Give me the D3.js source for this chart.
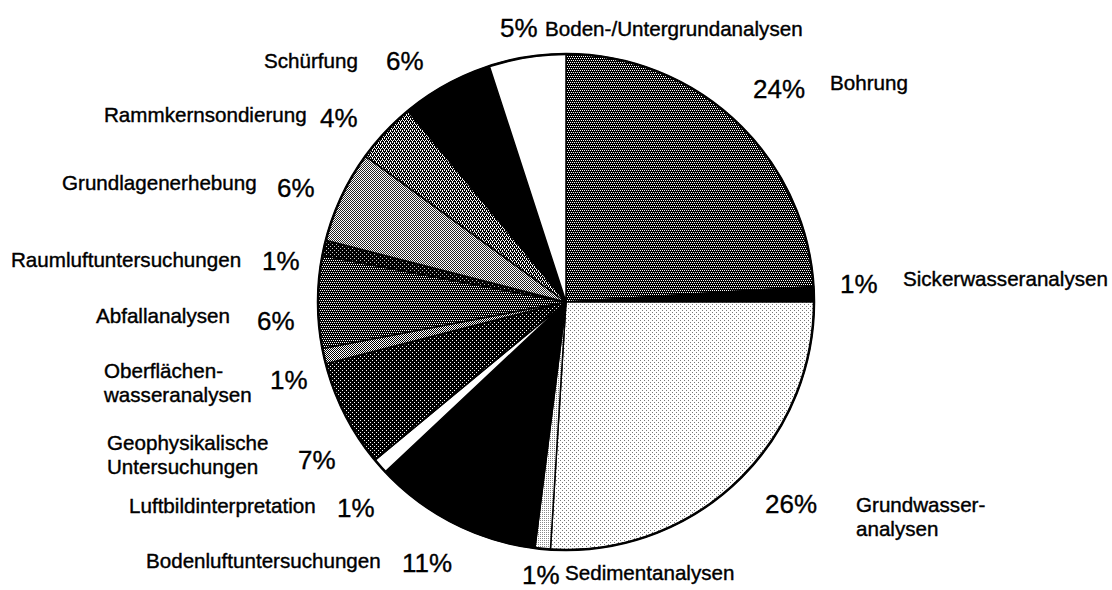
<!DOCTYPE html>
<html><head><meta charset="utf-8">
<script src="https://cdn.jsdelivr.net/npm/d3@7"></script>
<style>body{margin:0;background:#fff}svg{display:block}</style>
</head><body>
<svg id="c" width="1112" height="590"></svg>
<script>
// ---- data ----
const categories = ["Bohrung","Sickerwasseranalysen","Grundwasseranalysen","Sedimentanalysen",
  "Bodenluftuntersuchungen","Luftbildinterpretation","Geophysikalische Untersuchungen",
  "Oberflächenwasseranalysen","Abfallanalysen","Raumluftuntersuchungen","Grundlagenerhebung",
  "Rammkernsondierung","Schürfung","Boden-/Untergrundanalysen"];
const values = [24,1,26,1,11,1,7,1,6,1,6,4,6,5];
const labelLines = [["Bohrung"],["Sickerwasseranalysen"],["Grundwasser-","analysen"],["Sedimentanalysen"],
  ["Bodenluftuntersuchungen"],["Luftbildinterpretation"],["Geophysikalische","Untersuchungen"],
  ["Oberflächen-","wasseranalysen"],["Abfallanalysen"],["Raumluftuntersuchungen"],["Grundlagenerhebung"],
  ["Rammkernsondierung"],["Schürfung"],["Boden-/Untergrundanalysen"]];

// ---- layout (label anchor positions: textX, textY, pctX, pctY) ----
const labelPos = [
  [830, 90, 753, 98],
  [903, 286, 840, 293],
  [856, 512, 765, 513],
  [565, 580, 522, 584],
  [146, 568, 402, 572],
  [129, 513, 337, 517],
  [107, 450, 298, 469],
  [104, 378, 270, 389],
  [96, 323, 257, 330],
  [11, 267, 262, 270],
  [62, 190, 277, 197],
  [104, 122, 320, 127],
  [264, 68, 386, 70],
  [545, 36, 500, 37]
];

// ---- styles: dithered fill patterns ----
const patternSpecs = [
  {id:"pBohr", size:4, bg:"#000", fg:"#fff", dots:[[0,0],[2,0],[1,2],[3,2]]},
  {id:"pGrund", size:4, bg:"#fff", fg:"#777", dots:[[0,0],[2,2]]},
  {id:"pSed", size:2, bg:"#fff", fg:"#888", dots:[[0,0]]},
  {id:"pGeo", size:4, bg:"#000", fg:"#fff", dots:[[0,0],[2,2]]},
  {id:"pOber", size:2, bg:"#fff", fg:"#000", dots:[[0,0],[1,1]]},
  {id:"pAbf", size:4, bg:"#000", fg:"#fff", dots:[[0,0],[2,0],[1,2],[3,2]]},
  {id:"pRaum", size:4, bg:"#000", fg:"#ccc", dots:[[0,0],[2,2]]},
  {id:"pGrl", size:2, bg:"#fff", fg:"#222", dots:[[0,0],[1,1]]},
  {id:"pRamm", size:4, bg:"#000", fg:"#fff", dots:[[0,0],[2,0],[1,2],[3,2],[0,1],[2,3]]}
];
const sliceFill = ["url(#pBohr)","#000","url(#pGrund)","url(#pSed)","#000","#fff","url(#pGeo)",
  "url(#pOber)","url(#pAbf)","url(#pRaum)","url(#pGrl)","url(#pRamm)","#000","#fff"];

const svg = d3.select("#c");
const defs = svg.append("defs");
patternSpecs.forEach(p => {
  const pat = defs.append("pattern").attr("id", p.id).attr("patternUnits","userSpaceOnUse")
    .attr("width", p.size).attr("height", p.size);
  pat.append("rect").attr("width", p.size).attr("height", p.size).attr("fill", p.bg);
  p.dots.forEach(d => pat.append("rect").attr("x", d[0]).attr("y", d[1])
    .attr("width",1).attr("height",1).attr("fill", p.fg));
});

const cx = 566, cy = 302, R = 248;
const g = svg.append("g").attr("transform", `translate(${cx},${cy})`);
const pie = d3.pie().sort(null).value(d => d).startAngle(0).endAngle(2*Math.PI);
const arcs = pie(values);
const arc = d3.arc().innerRadius(0).outerRadius(R);

g.selectAll("path.slice").data(arcs).join("path")
  .attr("class","slice")
  .attr("d", arc)
  .attr("fill", (d,i) => sliceFill[i])
  .attr("stroke", "#000")
  .attr("stroke-width", 1.5)
  .attr("stroke-linejoin","round");

g.append("circle").attr("r", R).attr("fill","none").attr("stroke","#000").attr("stroke-width",2.5);

// ---- labels ----
const font = "'Liberation Sans', Arial, Helvetica, sans-serif";
const lab = svg.append("g").attr("font-family", font).attr("fill","#000");
categories.forEach((c,i) => {
  const [tx, ty, px, py] = labelPos[i];
  const t = lab.append("text").attr("x", tx).attr("y", ty).attr("font-size", 20.6)
    .attr("stroke","#000").attr("stroke-width",0.4);
  labelLines[i].forEach((ln, k) => {
    t.append("tspan").attr("x", tx).attr("dy", k === 0 ? 0 : 24).text(ln);
  });
  lab.append("text").attr("x", px).attr("y", py).attr("font-size", 26)
    .attr("stroke","#000").attr("stroke-width",0.35)
    .text(values[i] + "%");
});
</script>
</body></html>
